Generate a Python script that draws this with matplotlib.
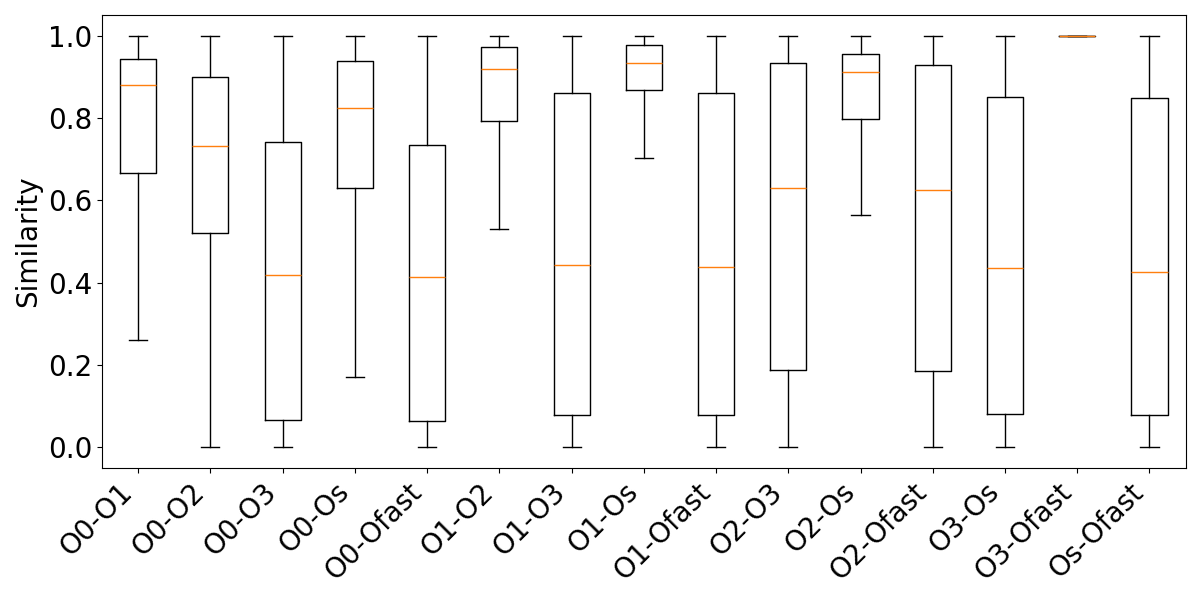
import matplotlib
matplotlib.use("Agg")
import matplotlib.pyplot as plt

# Pairs of optimisation levels compared
labels = ["O0-O1", "O0-O2", "O0-O3", "O0-Os", "O0-Ofast", "O1-O2", "O1-O3",
          "O1-Os", "O1-Ofast", "O2-O3", "O2-Os", "O2-Ofast", "O3-Os",
          "O3-Ofast", "Os-Ofast"]

# Box statistics
whislo = [0.260, 0.0, 0.0, 0.170, 0.0, 0.530, 0.0, 0.702, 0.0, 0.0,
          0.564, 0.0, 0.0, 1.0, 0.0]
q1 = [0.667, 0.521, 0.066, 0.629, 0.065, 0.792, 0.079, 0.868, 0.079, 0.189,
      0.798, 0.185, 0.082, 1.0, 0.079]
med = [0.880, 0.732, 0.418, 0.825, 0.415, 0.919, 0.442, 0.933, 0.437, 0.629,
       0.912, 0.625, 0.435, 1.0, 0.425]
q3 = [0.943, 0.899, 0.741, 0.938, 0.734, 0.972, 0.861, 0.977, 0.861, 0.933,
      0.955, 0.928, 0.851, 1.0, 0.848]
whishi = [1.0] * 15

stats = [{"label": lab, "whislo": lo, "q1": a, "med": m, "q3": b, "whishi": hi}
         for lab, lo, a, m, b, hi in zip(labels, whislo, q1, med, q3, whishi)]

plt.rcParams["font.size"] = 20

fig, ax = plt.subplots(figsize=(12, 6), dpi=100)
ax.bxp(stats, showfliers=False)
ax.set_ylabel("Similarity")
plt.xticks(rotation=45, ha="right")
fig.subplots_adjust(left=0.085, right=0.988, top=0.975, bottom=0.22)
plt.savefig("out.png")
